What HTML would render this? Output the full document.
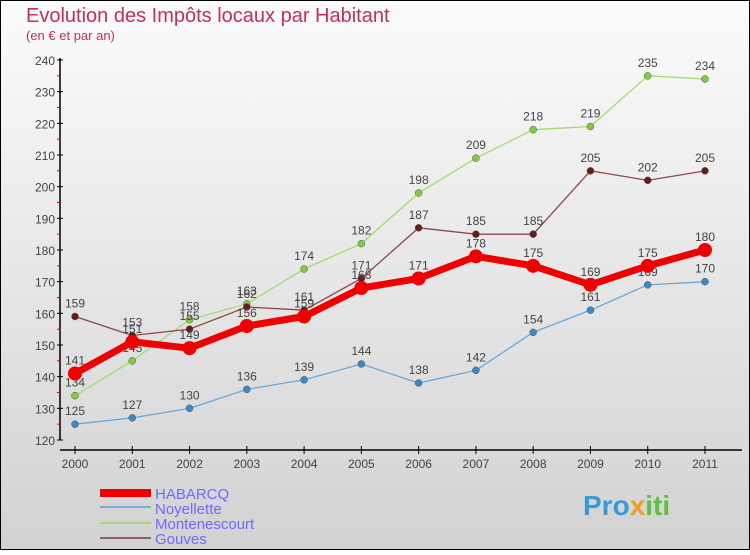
<!DOCTYPE html>
<html><head><meta charset="utf-8"><style>
body{margin:0}
#c{width:750px;height:550px;position:relative;font-family:"Liberation Sans",sans-serif}
</style></head><body>
<div id="c">
<svg id="svg" width="750" height="550" xmlns="http://www.w3.org/2000/svg">
<defs><linearGradient id="bg" x1="0" y1="0" x2="0" y2="1"><stop offset="0" stop-color="#fbfbfb"/><stop offset="1" stop-color="#d2d2d2"/></linearGradient></defs>
<rect x="0.5" y="0.5" width="749" height="549" fill="url(#bg)" stroke="#000"/>
<text x="26" y="22" font-size="20" fill="#c0305a">Evolution des Impôts locaux par Habitant</text>
<text x="26" y="40" font-size="13" fill="#c0305a">(en € et par an)</text>
<g id="axes"></g><g id="series"></g>
<g>
<rect x="100" y="489" width="51" height="8" fill="#e00"/>
<text x="155" y="499" font-size="15" fill="#6a6aff">HABARCQ</text>
<rect x="100" y="506" width="51" height="2" fill="#7aaed0"/>
<text x="155" y="514" font-size="15" fill="#6a6aff">Noyellette</text>
<rect x="100" y="522" width="51" height="2" fill="#a8d880"/>
<text x="155" y="529" font-size="15" fill="#6a6aff">Montenescourt</text>
<rect x="100" y="537" width="51" height="2" fill="#8a6060"/>
<text x="155" y="544" font-size="15" fill="#6a6aff">Gouves</text>
</g>
<text x="583" y="515" font-size="28" font-weight="bold" fill="#3a9ad8">Pro<tspan fill="#f0a020">x</tspan><tspan fill="#60c040">iti</tspan></text>
</svg></div>
<script>
const years=[2000,2001,2002,2003,2004,2005,2006,2007,2008,2009,2010,2011];
const yTicks=[120,130,140,150,160,170,180,190,200,210,220,230,240];
const habarcq=[141,151,149,156,159,168,171,178,175,169,175,180];
const noyellette=[125,127,130,136,139,144,138,142,154,161,169,170];
const montenescourt=[134,145,158,163,174,182,198,209,218,219,235,234];
const gouves=[159,153,155,162,161,171,187,185,185,205,202,205];
const NS="http://www.w3.org/2000/svg";
const xs=i=>75+i*(630/11);
const ys=v=>440-(v-120)*(380/120);
function mk(t,a,p,name,inter){const e=document.createElementNS(NS,t);for(const k in a)e.setAttribute(k,a[k]);p.appendChild(e);


return e;}
const ax=document.getElementById('axes');
mk('line',{x1:60,y1:58,x2:60,y2:440,stroke:'#000','stroke-width':1.5},ax,'y-axis',false);
mk('line',{x1:60,y1:450,x2:742,y2:450,stroke:'#000','stroke-width':1.5},ax,'x-axis',false);
yTicks.forEach(v=>{mk('line',{x1:57,y1:ys(v),x2:63,y2:ys(v),stroke:'#000'},ax,'y-tick',false);
const t=mk('text',{x:55,y:ys(v)+5,'font-size':12,fill:'#444','text-anchor':'end'},ax,'y-tick-label',false);t.textContent=v;
if(v<240)mk('line',{x1:57,y1:ys(v+5),x2:60,y2:ys(v+5),stroke:'#e00'},ax,'y-minor-tick',false);});
years.forEach((y,i)=>{mk('line',{x1:xs(i),y1:446,x2:xs(i),y2:454,stroke:'#000'},ax,'x-tick',false);
const t=mk('text',{x:xs(i),y:468,'font-size':12,fill:'#444','text-anchor':'middle'},ax,'x-tick-label',false);t.textContent=y;});
const sg=document.getElementById('series');
function draw(data,color,fill,w,r,name){
const g=mk('g',{},sg,'series-'+name,false);
mk('polyline',{points:data.map((v,i)=>xs(i)+','+ys(v)).join(' '),fill:'none',stroke:color,'stroke-width':w},g,'line-'+name,false);
data.forEach((v,i)=>{mk('circle',{cx:xs(i),cy:ys(v),r:r,fill:fill,stroke:'#555','stroke-width':r>5?0:0.5},g,'point-'+name,true);
const t=mk('text',{x:xs(i),y:ys(v)-9,'font-size':12,fill:'#444','text-anchor':'middle'},g,'value-label-'+name,false);t.textContent=v;});}
draw(noyellette,'#6aa8d8','#3a88c8',1.3,3.5,'noyellette');
draw(montenescourt,'#a0dc70','#80cc40',1.3,3.5,'montenescourt');
draw(gouves,'#8a4a4a','#6a1a1a',1.3,3.5,'gouves');
draw(habarcq,'#ee0000','#ee0000',7,7,'habarcq');
</script>
</body></html>
